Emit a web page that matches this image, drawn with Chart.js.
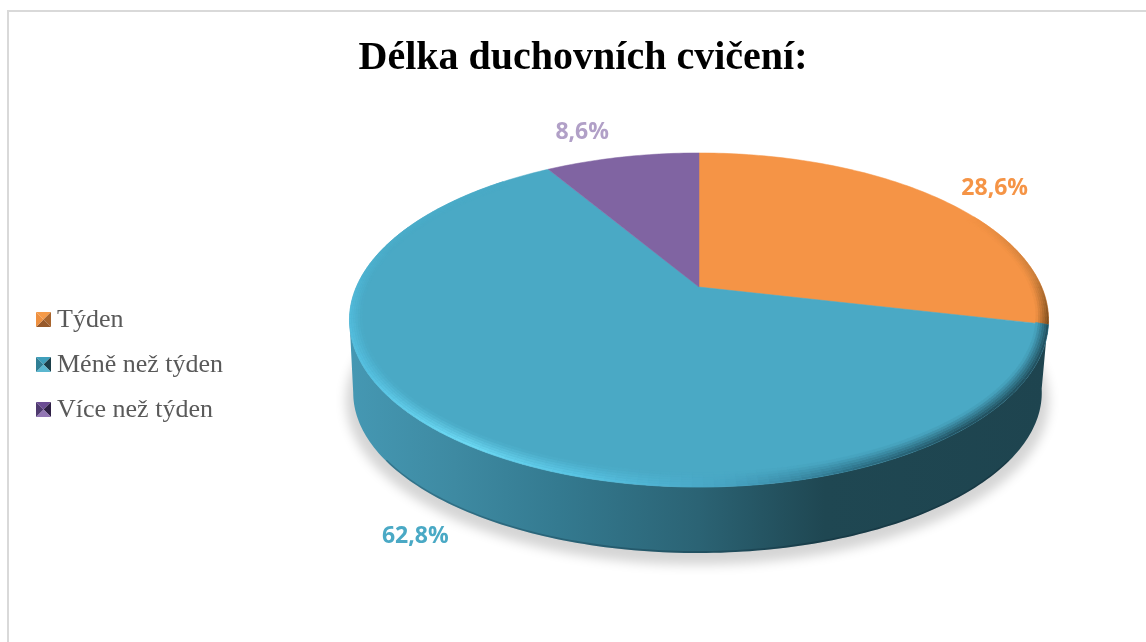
<!DOCTYPE html>
<html><head><meta charset="utf-8">
<style>html,body{margin:0;padding:0;background:#fff}canvas{display:block}</style>
<script src="https://cdn.jsdelivr.net/npm/chart.js@4/dist/chart.umd.min.js"></script>
</head><body>
<canvas id="c" width="1146" height="642" style="width:1146px;height:642px"></canvas>
<script>
const categories = ['Týden', 'Méně než týden', 'Více než týden'];
const shares = [28.6, 62.8, 8.6];
const chartTitle = 'Délka duchovních cvičení:';

const topColors = ['#F59446', '#4AA9C5', '#8064A2'];
const labelColors = ['#F59446', '#4AA9C5', '#B1A0C7'];
const labelOffsets = [[57, -10], [-44, 95], [-40, -25]];
const legendShades = [
  ['#F59A48', '#A8652E', '#96592A', '#EE9040'],
  ['#3F9FBB', '#1C3F4A', '#5BB7D0', '#2F7F95'],
  ['#6B4C93', '#2F2145', '#9276B4', '#4F3A70']
];
const rimStops = [
  [[0,'#F59446'],[60,'#F59446'],[86,'#C47C3A'],[103,'#6E4418']],
  [[103,'#1F4A58'],[140,'#1F4A58'],[158,'#2A6A80'],[175,'#45A0BF'],[195,'#58C4E4'],[215,'#70DEF8'],[240,'#58C4E4'],[262,'#52BCDC'],[285,'#4BAECB'],[331,'#4AA9C5']],
  [[331,'#8064A2'],[360,'#8064A2']]
];

const K = 0.1975, AX = 2.557, BY = 1.198, DROP = 0.552;
const hex = s => [1,3,5].map(i => parseInt(s.substr(i,2),16));
const mix = (a,b,t) => a.map((v,i)=>v+(b[i]-v)*t);
const css = c => `rgb(${c.map(Math.round).join(',')})`;
function rimAt(stops, deg){
  if (deg <= stops[0][0]) return hex(stops[0][1]);
  for (let i=1;i<stops.length;i++) if (deg <= stops[i][0]) {
    const t=(deg-stops[i-1][0])/(stops[i][0]-stops[i-1][0]);
    return mix(hex(stops[i-1][1]),hex(stops[i][1]),t);
  }
  return hex(stops[stops.length-1][1]);
}
function proj(el, th, ru, rv, lower){
  const R = el.outerRadius;
  const u = Math.sin(th)*ru, v = -Math.cos(th)*rv, w = 1-K*v;
  if (lower) return [el.x-1.5+0.985*AX*R*u/w, el.y+DROP*R+0.96*BY*R*v/w];
  return [el.x+AX*R*u/w, el.y+BY*R*v/w];
}
const rad = d => d*Math.PI/180;
function trace(ctx, pts){ ctx.beginPath(); pts.forEach((p,i)=> i?ctx.lineTo(p[0],p[1]):ctx.moveTo(p[0],p[1])); ctx.closePath(); }
function arcPts(el, a, b, ru, rv, lower){
  const out=[], n=Math.max(2,Math.ceil(Math.abs(b-a)/rad(1)));
  for(let i=0;i<=n;i++) out.push(proj(el,a+(b-a)*i/n,ru,rv,lower));
  return out;
}

const pie3d = {
  id:'pie3d',
  afterLayout(chart){
    Object.assign(chart.chartArea,{left:349,right:1049,top:153,bottom:421,width:700,height:268});
    const lg = chart.legend;
    const h = lg.bottom-lg.top;
    lg.left = 17; lg.right = lg.left+lg.width;
    lg.top = 365-h/2; lg.bottom = lg.top+h;
    const t = chart.titleBlock;
    t.left = 20; t.right = 1146;
  },
  beforeDraw(chart){
    const c = chart.ctx;
    c.save();
    c.fillStyle='#fff'; c.fillRect(0,0,1146,642);
    c.fillStyle='#D9D9D9';
    c.fillRect(7,10,1139,2); c.fillRect(7,10,2,632);
    c.restore();
  },
  beforeDatasetDraw(chart){
    const c = chart.ctx, arcs = chart.getDatasetMeta(0).data;
    const a0 = {x:arcs[0].x,y:arcs[0].y,outerRadius:arcs[0].outerRadius};
    // soft shadow only: the shape itself is painted off the canvas
    c.save();
    c.shadowColor='rgba(0,0,0,0.17)'; c.shadowBlur=11; c.shadowOffsetY=7; c.shadowOffsetX=3000;
    c.translate(-3000,0);
    trace(c, arcPts(a0,0,Math.PI*2,1.02,1.02,true)); c.fillStyle='#000'; c.fill();
    c.restore();
    // wall of the disc, only the part that faces the viewer
    const vis0 = rad(100), vis1 = rad(258.6);
    const grad = c.createLinearGradient(349,0,1048,0);
    grad.addColorStop(0,'#4598B3'); grad.addColorStop(0.15,'#3E8AA2');
    grad.addColorStop(0.3,'#347A90'); grad.addColorStop(0.5,'#2B6374');
    grad.addColorStop(0.68,'#1F4752'); grad.addColorStop(1,'#1E444F');
    const wall = arcPts(a0,vis0,vis1,1,1,false).concat(arcPts(a0,vis1,vis0,1,1,true));
    trace(c,wall); c.fillStyle=grad; c.fill();
    c.save();
    trace(c, arcPts(a0,rad(125),rad(235),1,1,true).concat(arcPts(a0,rad(235),rad(125),0.997,0.992,true)));
    c.fillStyle='rgba(0,20,30,0.22)'; c.fill();
    c.restore();
    // top faces with rims
    arcs.forEach((el,i)=>{
      const a=el.startAngle+Math.PI/2, b=el.endAngle+Math.PI/2;
      const pts=[[el.x,el.y]].concat(arcPts(el,a,b,1,1,false));
      trace(c,pts); c.fillStyle=topColors[i]; c.fill();
      c.strokeStyle=topColors[i]; c.lineWidth=0.5; c.stroke();
      const base=hex(topColors[i]), J=6, step=rad(1.5);
      for(let th=a;th<b-1e-6;th+=step){
        const th2=Math.min(b,th+step), deg=(th+th2)/2*180/Math.PI;
        const col=rimAt(rimStops[i],deg);
        if (Math.abs(col[0]-base[0])+Math.abs(col[1]-base[1])+Math.abs(col[2]-base[2])<3) continue;
        for(let j=0;j<J;j++){
          const t1=j/J,t2=(j+1)/J;
          const q=[proj(el,th,1-.034*t1,1-.06*t1),proj(el,th2,1-.034*t1,1-.06*t1),
                   proj(el,th2,1-.034*t2,1-.06*t2),proj(el,th,1-.034*t2,1-.06*t2)];
          const s=css(mix(col,base,(j+.5)/J));
          trace(c,q); c.fillStyle=s; c.fill(); c.strokeStyle=s; c.lineWidth=.4; c.stroke();
        }
      }
    });
    return false;
  },
  afterDraw(chart){
    const c=chart.ctx, arcs=chart.getDatasetMeta(0).data;
    c.save();
    c.font='bold 23px "Open Sans"'; c.textAlign='center'; c.textBaseline='middle';
    arcs.forEach((el,i)=>{
      const mid=(el.startAngle+el.endAngle)/2+Math.PI/2;
      const p=proj(el,mid,1,1,false);
      c.fillStyle=labelColors[i];
      c.fillText(shares[i].toFixed(1).replace('.',',')+'%',p[0]+labelOffsets[i][0],p[1]+labelOffsets[i][1]);
    });
    chart.legend.legendHitBoxes.forEach((h,i)=>{
      const x=36,s=15,y=h.top+h.height/2-s/2-0.5,m=[x+s/2,y+s/2],sh=legendShades[i];
      const corners=[[x,y],[x+s,y],[x+s,y+s],[x,y+s]];
      corners.forEach((p,k)=>{
        const q=corners[(k+1)%4];
        c.beginPath();c.moveTo(p[0],p[1]);c.lineTo(q[0],q[1]);c.lineTo(m[0],m[1]);c.closePath();
        c.fillStyle=sh[k];c.fill();
      });
    });
    c.restore();
  }
};

new Chart(document.getElementById('c'),{
  type:'pie',
  data:{labels:categories,datasets:[{data:shares,backgroundColor:topColors,borderWidth:0}]},
  options:{
    responsive:false,animation:false,
    plugins:{
      tooltip:{enabled:false},
      title:{display:true,text:chartTitle,color:'#000',
        font:{family:'"Liberation Serif"',size:40,weight:'bold'},padding:{top:35,bottom:10}},
      legend:{display:true,position:'left',align:'center',
        labels:{boxWidth:8,boxHeight:8,padding:19,color:'#595959',
          font:{family:'"Liberation Serif"',size:26},
          generateLabels(chart){
            return chart.data.labels.map((t,i)=>({text:t,index:i,fillStyle:'rgba(0,0,0,0)',strokeStyle:'rgba(0,0,0,0)',lineWidth:0,fontColor:'#595959'}));
          }}}
    }
  },
  plugins:[pie3d]
});
</script>
</body></html>
